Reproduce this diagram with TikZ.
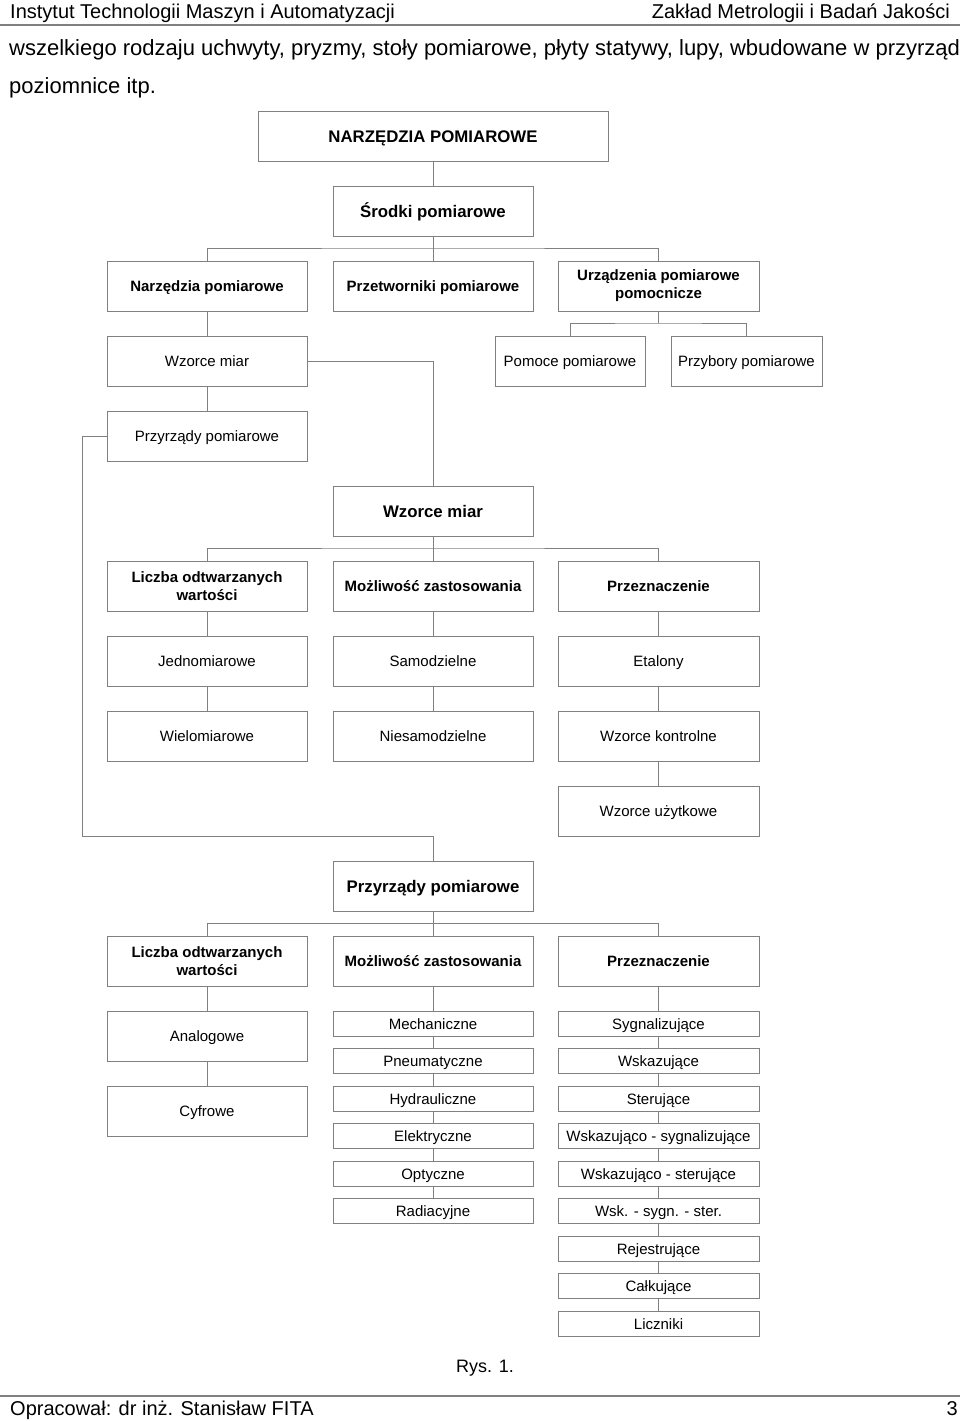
\documentclass[tikz,border=0pt]{standalone}
\usepackage{fontspec}
\setmainfont{Liberation Sans}
\begin{document}
\begin{tikzpicture}[x=1pt,y=-1pt,
  base/.style={draw=black!50,line width=1pt,inner sep=0pt,outer sep=0pt,
    minimum width=200pt,minimum height=50pt,
    font=\fontsize{15}{18}\selectfont},
  bx/.style={base,text height=11.8pt,text depth=0pt},
  two/.style={base,align=center},
  sbx/.style={bx,minimum height=25pt},
  bb/.style={font=\fontsize{15}{18}\selectfont\bfseries},
  big/.style={font=\fontsize{16.8}{20}\selectfont\bfseries,text height=12.8pt,text depth=0pt},
  ln/.style={draw=black!50,line width=1pt},
  txt/.style={inner sep=0pt,text height=14.5pt,text depth=0pt,font=\fontsize{20}{24}\selectfont},
  btxt/.style={txt,text height=16pt,font=\fontsize{22}{26}\selectfont}]
\useasboundingbox (0,0) rectangle (960,1421);
\fill[white] (0,0) rectangle (960,1421);
% header / footer
\node[txt,anchor=west] (h1) at (10,11) {Instytut Technologii Maszyn i Automatyzacji};
\node[txt,anchor=east] (h2) at (950,11) {Zakład Metrologii i Badań Jakości};
\draw[draw=black!50,line width=2pt] (0,25) -- (960,25);
\node[btxt,anchor=west] (b1) at (9,48) {wszelkiego rodzaju uchwyty, pryzmy, stoły pomiarowe, płyty statywy, lupy, wbudowane w przyrząd};
\node[btxt,anchor=west] (b2) at (9,85) {poziomnice itp.};
\node[txt,text height=13pt,font=\fontsize{18}{20}\selectfont] (rys) at (485,1366) {Rys. 1.};
\draw[draw=black!50,line width=2pt] (0,1396) -- (960,1396);
\node[txt,anchor=west] (f1) at (10,1408) {Opracował: dr inż. Stanisław FITA};
\node[txt,anchor=east] (f2) at (958,1408) {3};
% boxes
\node[bx,big,minimum width=350pt] (top) at (433,136) {NARZĘDZIA POMIAROWE};
\node[bx,big] (srod) at (433,211) {Środki pomiarowe};
\node[bx,bb] (narz) at (207,286) {Narzędzia pomiarowe};
\node[bx,bb] (przetw) at (433,286) {Przetworniki pomiarowe};
\node[two,bb,minimum width=201pt] (urz) at (658.5,286) {Urządzenia pomiarowe\\pomocnicze};
\node[bx] (wm1) at (207,361) {Wzorce miar};
\node[bx,minimum width=150pt] (pom) at (570,361) {Pomoce pomiarowe};
\node[bx,minimum width=151pt] (przyb) at (746.5,361) {Przybory pomiarowe};
\node[bx] (prz1) at (207,436) {Przyrządy pomiarowe};
\node[bx,big] (wm2) at (433,511) {Wzorce miar};
\node[two,bb] (licz1) at (207,586) {Liczba odtwarzanych\\wartości};
\node[bx,bb] (moz1) at (433,586) {Możliwość zastosowania};
\node[bx,bb,minimum width=201pt] (prze1) at (658.5,586) {Przeznaczenie};
\node[bx] (jedn) at (207,661) {Jednomiarowe};
\node[bx] (samo) at (433,661) {Samodzielne};
\node[bx,minimum width=201pt] (etal) at (658.5,661) {Etalony};
\node[bx] (wiel) at (207,736) {Wielomiarowe};
\node[bx] (nies) at (433,736) {Niesamodzielne};
\node[bx,minimum width=201pt] (wkon) at (658.5,736) {Wzorce kontrolne};
\node[bx,minimum width=201pt] (wuz) at (658.5,811) {Wzorce użytkowe};
\node[bx,big] (prz2) at (433,886) {Przyrządy pomiarowe};
\node[two,bb] (licz2) at (207,961) {Liczba odtwarzanych\\wartości};
\node[bx,bb] (moz2) at (433,961) {Możliwość zastosowania};
\node[bx,bb,minimum width=201pt] (prze2) at (658.5,961) {Przeznaczenie};
\node[bx] (anal) at (207,1036) {Analogowe};
\node[bx] (cyf) at (207,1111) {Cyfrowe};
\node[sbx] (m1) at (433,1023.5) {Mechaniczne};
\node[sbx] (m2) at (433,1061) {Pneumatyczne};
\node[sbx] (m3) at (433,1098.5) {Hydrauliczne};
\node[sbx] (m4) at (433,1136) {Elektryczne};
\node[sbx] (m5) at (433,1173.5) {Optyczne};
\node[sbx] (m6) at (433,1211) {Radiacyjne};
\node[sbx,minimum width=201pt] (r1) at (658.5,1023.5) {Sygnalizujące};
\node[sbx,minimum width=201pt] (r2) at (658.5,1061) {Wskazujące};
\node[sbx,minimum width=201pt] (r3) at (658.5,1098.5) {Sterujące};
\node[sbx,minimum width=201pt] (r4) at (658.5,1136) {Wskazująco - sygnalizujące};
\node[sbx,minimum width=201pt] (r5) at (658.5,1173.5) {Wskazująco - sterujące};
\node[sbx,minimum width=201pt] (r6) at (658.5,1211) {Wsk. - sygn. - ster.};
\node[sbx,minimum width=201pt] (r7) at (658.5,1248.5) {Rejestrujące};
\node[sbx,minimum width=201pt] (r8) at (658.5,1286) {Całkujące};
\node[sbx,minimum width=201pt] (r9) at (658.5,1323.5) {Liczniki};
% junctions
\coordinate (j1) at (433,248);
\coordinate (j2) at (658.5,323);
\coordinate (j3) at (433,548);
\coordinate (j4) at (433,923);
\coordinate (c1) at (82,836);
% connectors
\draw[ln] (top) -- (srod);
\draw[ln] (srod) -- (j1);
\draw[ln] (narz.north) |- (j1) -| (urz.north);
\draw[ln] (j1) -- (przetw);
\draw[ln] (urz) -- (j2);
\draw[ln] (pom.north) |- (j2) -| (przyb.north);
\draw[ln] (narz) -- (wm1);
\draw[ln] (wm1) -- (prz1);
\draw[ln] (wm1.east) -| (wm2.north);
\draw[ln] (prz1.west) -| (c1) -| (prz2.north);
\draw[ln] (wm2) -- (j3);
\draw[ln] (licz1.north) |- (j3) -| (prze1.north);
\draw[ln] (j3) -- (moz1);
\draw[ln] (licz1) -- (jedn);
\draw[ln] (jedn) -- (wiel);
\draw[ln] (moz1) -- (samo);
\draw[ln] (samo) -- (nies);
\draw[ln] (prze1) -- (etal);
\draw[ln] (etal) -- (wkon);
\draw[ln] (wkon) -- (wuz);
\draw[ln] (prz2) -- (j4);
\draw[ln] (licz2.north) |- (j4) -| (prze2.north);
\draw[ln] (j4) -- (moz2);
\draw[ln] (licz2) -- (anal);
\draw[ln] (anal) -- (cyf);
\draw[ln] (moz2) -- (m1);
\draw[ln] (m1) -- (m2);
\draw[ln] (m2) -- (m3);
\draw[ln] (m3) -- (m4);
\draw[ln] (m4) -- (m5);
\draw[ln] (m5) -- (m6);
\draw[ln] (prze2) -- (r1);
\draw[ln] (r1) -- (r2);
\draw[ln] (r2) -- (r3);
\draw[ln] (r3) -- (r4);
\draw[ln] (r4) -- (r5);
\draw[ln] (r5) -- (r6);
\draw[ln] (r6) -- (r7);
\draw[ln] (r7) -- (r8);
\draw[ln] (r8) -- (r9);
\end{tikzpicture}
\end{document}
